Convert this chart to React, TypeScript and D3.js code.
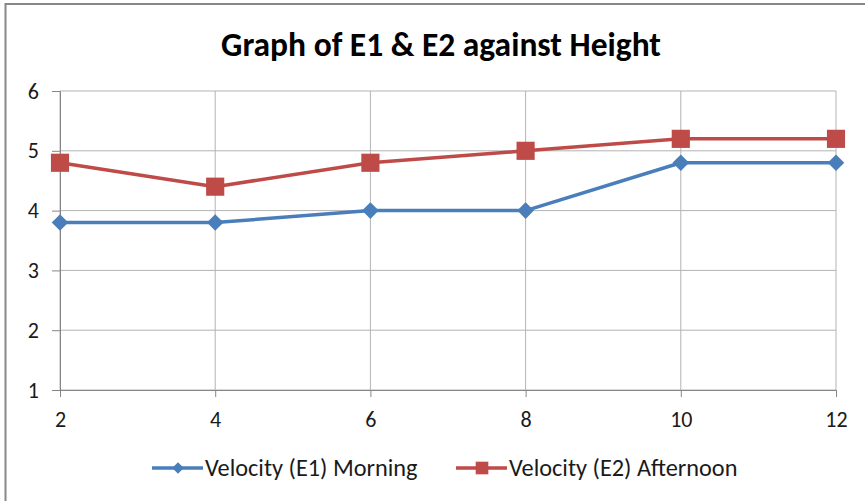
import React, { useEffect, useRef } from 'react';
import * as d3 from 'd3';

// heights (x axis) and the two series
const heights = [2, 4, 6, 8, 10, 12];
const e1Morning = [3.8, 3.8, 4.0, 4.0, 4.8, 4.8];
const e2Afternoon = [4.8, 4.4, 4.8, 5.0, 5.2, 5.2];
const yTicks = [1, 2, 3, 4, 5, 6];
const seriesNames = ['Velocity (E1) Morning', 'Velocity (E2) Afternoon'];

const FONT = "Carlito, 'Liberation Sans Narrow', 'Open Sans', sans-serif";
const BLUE = '#4a7ebb';
const RED = '#be4b48';
const INK = '#1a1a1a';

const App: React.FC = () => {
  const svgRef = useRef<SVGSVGElement>(null);

  useEffect(() => {
    if (!svgRef.current) return;
    const svg = d3.select(svgRef.current);
    svg.selectAll('*').remove();

    // outer chart frame
    svg.append('rect')
      .attr('x', 5.5).attr('y', 4)
      .attr('width', 920).attr('height', 600)
      .attr('fill', '#fff')
      .attr('stroke', '#878787')
      .attr('stroke-width', 2);

    // title
    svg.append('text')
      .attr('x', 441).attr('y', 56)
      .attr('text-anchor', 'middle')
      .style('font-family', FONT)
      .style('font-size', '33.5px')
      .style('font-weight', 'bold')
      .style('fill', '#000')
      .text('Graph of E1 & E2 against Height');

    const x = d3.scaleLinear().domain([2, 12]).range([60, 836]);
    const y = d3.scaleLinear().domain([1, 6]).range([390, 91]);

    const grid = svg.append('g');
    // horizontal gridlines
    yTicks.forEach(t => {
      grid.append('line')
        .attr('x1', x(2)).attr('x2', x(12))
        .attr('y1', y(t)).attr('y2', y(t))
        .attr('stroke', '#b3b3b3').attr('stroke-width', 1);
    });
    // vertical gridlines
    heights.forEach(h => {
      grid.append('line')
        .attr('x1', x(h)).attr('x2', x(h))
        .attr('y1', y(6)).attr('y2', y(1))
        .attr('stroke', '#b3b3b3').attr('stroke-width', 1);
    });

    // y axis
    const yAxis = svg.append('g')
      .attr('transform', `translate(${x(2)},0)`)
      .call(d3.axisLeft(y).tickValues(yTicks).tickSize(8).tickPadding(13).tickFormat(d3.format('d')));
    // x axis
    const xAxis = svg.append('g')
      .attr('transform', `translate(0,${y(1)})`)
      .call(d3.axisBottom(x).tickValues(heights).tickSize(7).tickPadding(14).tickFormat(d3.format('d')));

    [yAxis, xAxis].forEach(ax => {
      ax.select('.domain').attr('stroke', '#868686').attr('stroke-width', 1);
      ax.selectAll('.tick line').attr('stroke', '#868686');
      ax.selectAll('.tick text')
        .style('font-family', FONT)
        .style('font-size', '22px')
        .attr('fill', INK);
    });

    const line = d3.line<number>()
      .x((_, i) => x(heights[i]))
      .y(d => y(d));

    const diamond = d3.symbol().type(d3.symbolDiamond2).size(175);
    const square = d3.symbol().type(d3.symbolSquare).size(330);
    const legDiamond = d3.symbol().type(d3.symbolDiamond2).size(85);
    const legSquare = d3.symbol().type(d3.symbolSquare).size(160);

    const drawSeries = (vals: number[], color: string, sym: any) => {
      svg.append('path')
        .datum(vals)
        .attr('d', line)
        .attr('fill', 'none')
        .attr('stroke', color)
        .attr('stroke-width', 3.5)
        .attr('stroke-linejoin', 'round');
      svg.append('g').selectAll('path')
        .data(vals)
        .enter().append('path')
        .attr('transform', (d, i) => `translate(${x(heights[i])},${y(d)})`)
        .attr('d', sym)
        .attr('fill', color);
    };

    drawSeries(e1Morning, BLUE, diamond);
    drawSeries(e2Afternoon, RED, square);

    // legend
    const legend = [
      { name: seriesNames[0], color: BLUE, sym: legDiamond, x0: 152 },
      { name: seriesNames[1], color: RED, sym: legSquare, x0: 456 },
    ];
    const ly = 468;
    legend.forEach(l => {
      const g = svg.append('g');
      g.append('line')
        .attr('x1', l.x0).attr('x2', l.x0 + 51)
        .attr('y1', ly).attr('y2', ly)
        .attr('stroke', l.color).attr('stroke-width', 3.5);
      g.append('path')
        .attr('transform', `translate(${l.x0 + 26},${ly})`)
        .attr('d', l.sym)
        .attr('fill', l.color);
      g.append('text')
        .attr('x', l.x0 + 53).attr('y', ly + 8)
        .style('font-family', FONT)
        .style('font-size', '24.3px')
        .attr('fill', INK)
        .text(l.name);
    });
  }, []);

  return (
    <div style={{ position: 'absolute', left: 0, top: 0, width: 865, height: 501, overflow: 'hidden', background: '#fff' }}>
      <svg ref={svgRef} width={865} height={501} style={{ display: 'block' }} />
    </div>
  );
};

export default App;
